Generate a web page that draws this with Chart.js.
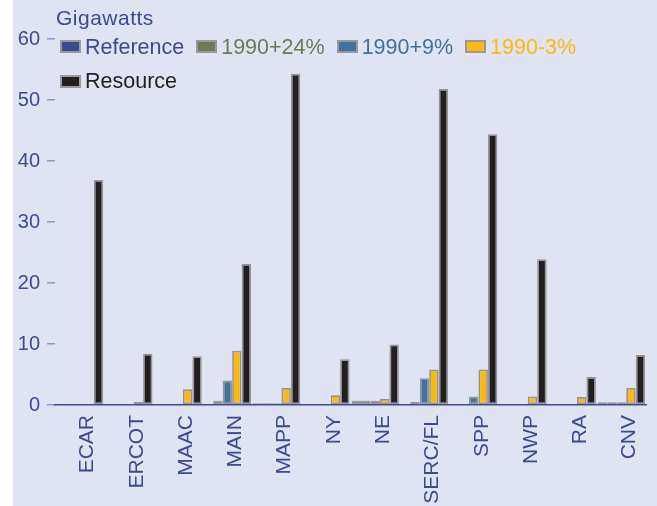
<!DOCTYPE html>
<html>
<head>
<meta charset="utf-8">
<script src="https://cdn.jsdelivr.net/npm/chart.js@4/dist/chart.umd.min.js"></script>
<style>
  html, body { margin: 0; padding: 0; background: #fff; }
  #wrap {
    position: absolute; left: 13px; top: 0;
    width: 644px; height: 506px;
    background: #e0e3f1;
    font-family: "Liberation Sans", Arial, sans-serif;
  }
  #chart { position: absolute; left: 0; top: 0; }
  #unit {
    position: absolute; left: 43px; top: 6px;
    font-size: 21px; color: #3b4a94; letter-spacing: 0.5px;
  }
  #legend {
    position: absolute; left: 47px; top: 29px; width: 540px;
    font-size: 21.5px; line-height: 34px;
  }
  .item { display: inline-flex; align-items: center; margin-right: 12px; white-space: nowrap; }
  .box { width: 17px; height: 9px; border: 2px solid #999; margin-right: 4px; }
</style>
</head>
<body>
<div id="wrap">
  <canvas id="chart" width="644" height="506"></canvas>
  <div id="unit">Gigawatts</div>
  <div id="legend"></div>
</div>
<script>
const regions = ['ECAR', 'ERCOT', 'MAAC', 'MAIN', 'MAPP', 'NY', 'NE', 'SERC/FL', 'SPP', 'NWP', 'RA', 'CNV'];
const reference = [0.1, 0.1, 0.1, 0.1, 0.3, 0.1, 0.7, 0.1, 0.1, 0.1, 0.1, 0.45];
const plus24 = [0.1, 0.1, 0.1, 0.7, 0.3, 0.1, 0.7, 0.5, 0.1, 0.1, 0.1, 0.45];
const plus9 = [0.1, 0.1, 0.2, 4.0, 0.3, 0.1, 0.7, 4.4, 1.4, 0.1, 0.1, 0.45];
const minus3 = [0.1, 0.5, 2.6, 8.9, 2.8, 1.6, 1.0, 5.8, 5.8, 1.4, 1.3, 2.8];
const resource = [36.9, 8.4, 8.0, 23.1, 54.3, 7.5, 9.9, 51.8, 44.4, 23.9, 4.6, 8.2];
const yTicks = [0, 10, 20, 30, 40, 50, 60];

const series = [
    { label: 'Reference', data: reference, color: '#3b4a94' },
    { label: '1990+24%', data: plus24, color: '#6e7a56' },
    { label: '1990+9%', data: plus9, color: '#41719f' },
    { label: '1990-3%', data: minus3, color: '#fdb913' },
    { label: 'Resource', data: resource, color: '#231f20' }
];

const axisColor = '#3b4a94';
const family = '"Liberation Sans", Arial, sans-serif';

new Chart(document.getElementById('chart'), {
    type: 'bar',
    data: {
        labels: regions,
        datasets: series.map(s => ({
            label: s.label,
            data: s.data,
            backgroundColor: s.color,
            borderColor: '#959595',
            borderWidth: 1.75,
            borderSkipped: false,
            categoryPercentage: 0.96,
            barPercentage: 1.0
        }))
    },
    options: {
        responsive: false,
        animation: false,
        devicePixelRatio: 1,
        layout: { autoPadding: false, padding: { top: 39, right: 7, left: 0, bottom: 0 } },
        plugins: { legend: { display: false }, tooltip: { enabled: false } },
        scales: {
            x: {
                afterFit: s => { s.height = 101; },
                grid: { display: false, drawTicks: false },
                border: { display: true, color: axisColor, width: 1.5 },
                ticks: {
                    color: axisColor, font: { family, size: 21 },
                    minRotation: 90, maxRotation: 90,
                    padding: 10, labelOffset: 8
                }
            },
            y: {
                min: 0, max: 60,
                afterFit: s => { s.width = 42; },
                afterBuildTicks: s => { s.ticks = yTicks.map(v => ({ value: v })); },
                grid: { drawOnChartArea: false, drawTicks: true, tickLength: 8, color: '#8f97c6', lineWidth: 1.5 },
                border: { display: false },
                ticks: { color: axisColor, font: { family, size: 20 }, padding: 7 }
            }
        }
    }
});

// legend drawn as html so it can sit over the plot area in two rows
document.getElementById('legend').innerHTML = series.map(s =>
    `<span class="item"><span class="box" style="background:${s.color}"></span><span style="color:${s.color}">${s.label}</span></span>`
).join('');
</script>
</body>
</html>
